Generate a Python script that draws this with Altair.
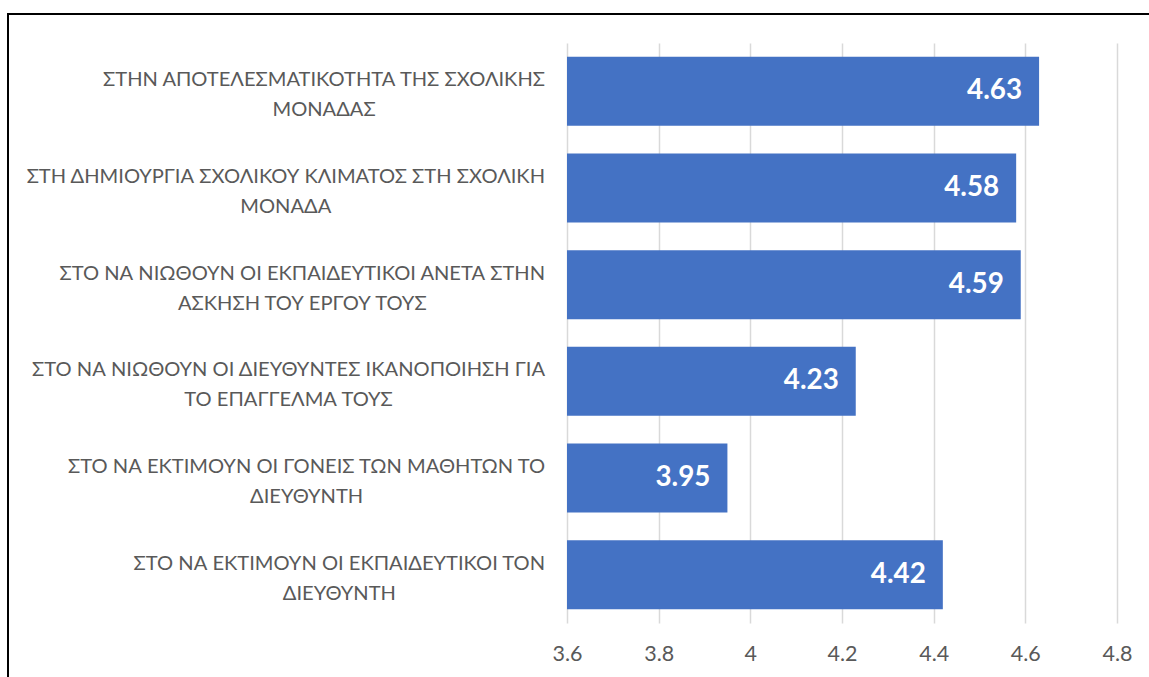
import subprocess
import altair as alt
import pandas as pd

# ---------------- data ----------------
line1 = [
    "ΣΤΗΝ ΑΠΟΤΕΛΕΣΜΑΤΙΚΟΤΗΤΑ ΤΗΣ ΣΧΟΛΙΚΗΣ",
    "ΣΤΗ ΔΗΜΙΟΥΡΓΙΑ ΣΧΟΛΙΚΟΥ ΚΛΙΜΑΤΟΣ ΣΤΗ ΣΧΟΛΙΚΗ",
    "ΣΤΟ ΝΑ ΝΙΩΘΟΥΝ ΟΙ ΕΚΠΑΙΔΕΥΤΙΚΟΙ ΑΝΕΤΑ ΣΤΗΝ",
    "ΣΤΟ ΝΑ ΝΙΩΘΟΥΝ ΟΙ ΔΙΕΥΘΥΝΤΕΣ ΙΚΑΝΟΠΟΙΗΣΗ ΓΙΑ",
    "ΣΤΟ ΝΑ ΕΚΤΙΜΟΥΝ ΟΙ ΓΟΝΕΙΣ ΤΩΝ ΜΑΘΗΤΩΝ ΤΟ",
    "ΣΤΟ ΝΑ ΕΚΤΙΜΟΥΝ ΟΙ ΕΚΠΑΙΔΕΥΤΙΚΟΙ ΤΟΝ",
]
line2 = [
    "ΜΟΝΑΔΑΣ",
    "ΜΟΝΑΔΑ",
    "ΑΣΚΗΣΗ ΤΟΥ ΕΡΓΟΥ ΤΟΥΣ",
    "ΤΟ ΕΠΑΓΓΕΛΜΑ ΤΟΥΣ",
    "ΔΙΕΥΘΥΝΤΗ",
    "ΔΙΕΥΘΥΝΤΗ",
]
values = [4.63, 4.58, 4.59, 4.23, 3.95, 4.42]
value_labels = ["4.63", "4.58", "4.59", "4.23", "3.95", "4.42"]
tick_values = [3.6, 3.8, 4.0, 4.2, 4.4, 4.6, 4.8]
tick_labels = ["3.6", "3.8", "4", "4.2", "4.4", "4.6", "4.8"]

# ---------------- styling ----------------
FONT = "Lato"
BAR_COLOR = "#4472C4"
TEXT_COLOR = "#595959"
GRID_COLOR = "#D9D9D9"
PLOT_W, PLOT_H = 550, 580
PAD_L, PAD_T = 567, 43
LABEL_GAP = 22          # gap between label block right edge and plot area
LINE_H = 30


def font_file(name, bold=False):
    try:
        pat = name + (":bold" if bold else "")
        out = subprocess.run(["fc-match", "-f", "%{file}", pat],
                             capture_output=True, text=True, timeout=5).stdout.strip()
        return out or None
    except Exception:
        return None


REG_FILE = font_file(FONT)
BOLD_FILE = font_file(FONT, bold=True)


def approx_width(s, size):
    w = 0.0
    for ch in s:
        if ch == " ":
            w += 0.25
        elif ch == "Ι":
            w += 0.28
        elif ch in "ΜΩ":
            w += 0.82
        elif ch in "ΟΘΦ":
            w += 0.74
        else:
            w += 0.6
    return w * size


def text_width(s, size, bold=False):
    path = BOLD_FILE if bold else REG_FILE
    try:
        from PIL import ImageFont
        f = ImageFont.truetype(path, size)
        return float(f.getlength(s))
    except Exception:
        return approx_width(s, size)


# choose sizes so text widths match the reference
cat_size = 24 * 442 / max(text_width(line1[0], 24), 1)
cat_size = min(max(cat_size, 18), 26)
val_size = 24 * 55 / max(text_width("4.63", 24, True), 1)
val_size = min(max(val_size, 20), 28)
tick_size = 21 * 30 / max(text_width("3.6", 21), 1)
tick_size = min(max(tick_size, 17), 23)

cats = [f"{a} {b}" for a, b in zip(line1, line2)]
label_text = [f"{a}\n{b}" for a, b in zip(line1, line2)]
block_w = [max(text_width(a, cat_size), text_width(b, cat_size)) for a, b in zip(line1, line2)]
label_x = [-LABEL_GAP - w / 2 for w in block_w]

df = pd.DataFrame({
    "cat": cats,
    "value": values,
    "vlabel": value_labels,
    "ltext": label_text,
    "lx": label_x,
})

y_enc = alt.Y("cat:N", sort=cats, axis=None,
              scale=alt.Scale(paddingInner=0.286, paddingOuter=0.143))

x_scale = alt.Scale(domain=[3.6, 4.8], zero=False, nice=False)

base = alt.Chart(df)

bars = base.mark_bar(color=BAR_COLOR).encode(
    x=alt.X("value:Q", scale=x_scale, title=None,
            axis=alt.Axis(values=tick_values, format="~g", grid=True,
                          gridColor=GRID_COLOR, gridWidth=1.5, domain=False,
                          ticks=False, labelFont=FONT, labelFontSize=tick_size,
                          labelColor=TEXT_COLOR, labelPadding=20,
                          labelFlush=False, labelOverlap=False)),
    x2=alt.datum(3.6),
    y=y_enc,
)

vals = base.mark_text(align="right", baseline="middle", dx=-17, color="white",
                      font=FONT, fontWeight="bold", fontSize=val_size).encode(
    x=alt.X("value:Q", scale=x_scale),
    y=y_enc,
    text="vlabel:N",
)

cat_labels = base.mark_text(align="center", baseline="middle", lineBreak="\n",
                            lineHeight=LINE_H, dy=-11, color=TEXT_COLOR,
                            font=FONT, fontSize=cat_size).encode(
    x=alt.X("lx:Q", scale=None, axis=None),
    y=y_enc,
    text="ltext:N",
)

frame = alt.Chart(pd.DataFrame({"k": [0]})).mark_rect(
    fill=None, fillOpacity=0, stroke="black", strokeWidth=2).encode(
    x=alt.value(8 - PAD_L), x2=alt.value(1300 - PAD_L),
    y=alt.value(14 - PAD_T), y2=alt.value(800 - PAD_T),
)

chart = alt.layer(bars, vals, cat_labels, frame).properties(
    width=PLOT_W, height=PLOT_H,
    autosize=alt.AutoSizeParams(type="none"),
    padding={"left": PAD_L, "top": PAD_T, "right": 1149 - PAD_L - PLOT_W,
             "bottom": 677 - PAD_T - PLOT_H},
    background="white",
).configure_view(stroke=None)

chart.save("out.html", embed_options={"renderer": "svg", "actions": False})
